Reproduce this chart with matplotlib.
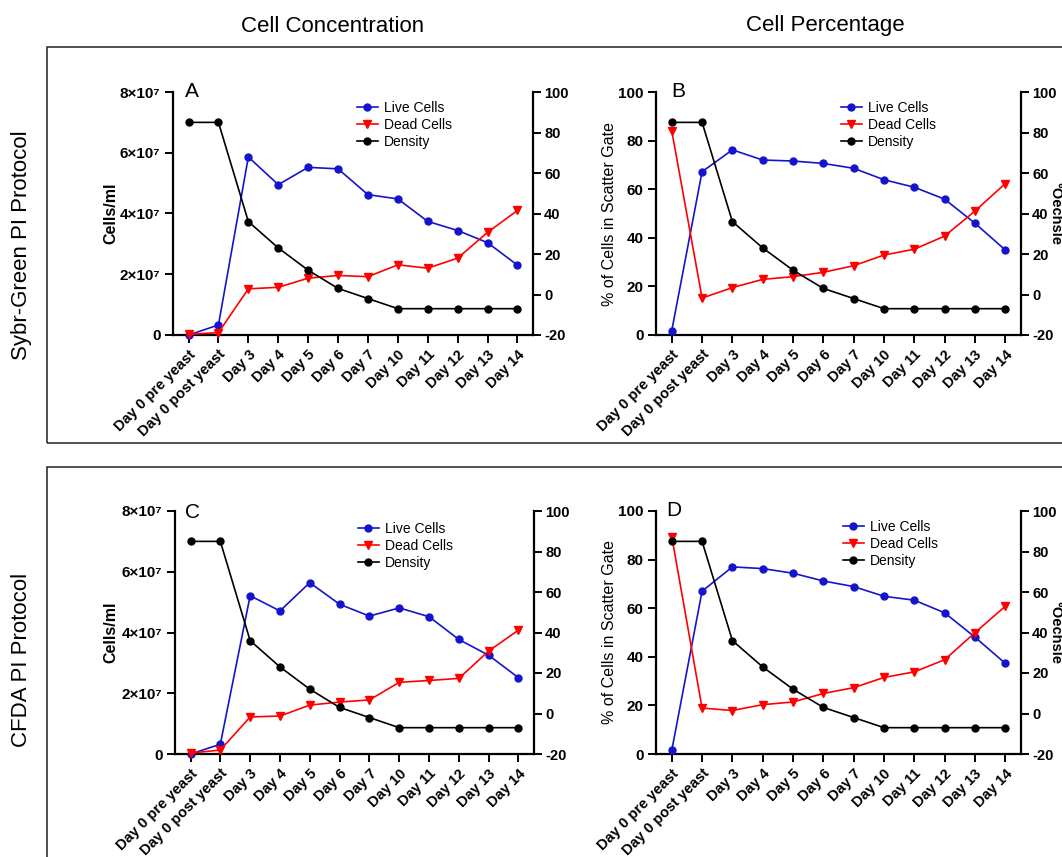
import matplotlib
matplotlib.use("Agg")
import matplotlib.pyplot as plt
from matplotlib.patches import Rectangle

plt.rcParams['font.family'] = ['Liberation Sans', 'DejaVu Sans']

days = ["Day 0 pre yeast", "Day 0 post yeast", "Day 3", "Day 4", "Day 5", "Day 6",
        "Day 7", "Day 10", "Day 11", "Day 12", "Day 13", "Day 14"]

density = [85, 85, 36, 23, 12, 3, -2, -7, -7, -7, -7, -7]

# Panel A: Sybr-Green concentration (cells/ml)
live_a = [0.0, 0.33e7, 5.86e7, 4.95e7, 5.52e7, 5.47e7, 4.62e7, 4.48e7, 3.74e7, 3.44e7, 3.04e7, 2.30e7]
dead_a = [0.02e7, 0.08e7, 1.52e7, 1.57e7, 1.87e7, 1.96e7, 1.92e7, 2.31e7, 2.20e7, 2.53e7, 3.38e7, 4.10e7]

# Panel B: Sybr-Green percentage
live_b = [1.8, 67.2, 76.2, 72.0, 71.6, 70.6, 68.6, 63.9, 60.8, 55.9, 46.0, 35.0]
dead_b = [84.0, 15.2, 19.5, 22.9, 24.0, 25.8, 28.5, 32.9, 35.3, 40.7, 51.0, 62.3]

# Panel C: CFDA concentration (cells/ml)
live_c = [0.0, 0.32e7, 5.21e7, 4.71e7, 5.64e7, 4.93e7, 4.54e7, 4.81e7, 4.52e7, 3.77e7, 3.25e7, 2.51e7]
dead_c = [0.03e7, 0.13e7, 1.22e7, 1.25e7, 1.61e7, 1.71e7, 1.78e7, 2.36e7, 2.42e7, 2.49e7, 3.39e7, 4.08e7]

# Panel D: CFDA percentage
live_d = [1.5, 67.0, 77.0, 76.3, 74.4, 71.2, 68.9, 64.9, 63.3, 58.1, 48.1, 37.3]
dead_d = [89.5, 18.9, 17.9, 20.3, 21.4, 24.9, 27.3, 31.5, 33.8, 38.8, 49.9, 60.8]

conc_ticks = [0, 2e7, 4e7, 6e7, 8e7]
conc_labels = ["0", "2×10⁷", "4×10⁷", "6×10⁷", "8×10⁷"]
pct_ticks = [0, 20, 40, 60, 80, 100]
oe_ticks = [-20, 0, 20, 40, 60, 80, 100]

W, H = 1062, 857
fig = plt.figure(figsize=(W / 100, H / 100), dpi=100)

def fx(px):
    return px / W

def fy(py):
    return 1 - py / H

# Frames
fig.add_artist(Rectangle((fx(47), fy(443)), 1.2, fy(47) - fy(443), transform=fig.transFigure,
                         fill=False, edgecolor='#222222', linewidth=1.1))
fig.add_artist(Rectangle((fx(47), -0.2), 1.2, fy(467) + 0.2, transform=fig.transFigure,
                         fill=False, edgecolor='#222222', linewidth=1.1))

fig.text(fx(333), fy(26), "Cell Concentration", ha='center', va='center', fontsize=16)
fig.text(fx(825), fy(26), "Cell Percentage", ha='center', va='center', fontsize=16)
fig.text(fx(22), fy(245), "Sybr-Green PI Protocol", ha='center', va='center', fontsize=16, rotation=90)
fig.text(fx(22), fy(660), "CFDA PI Protocol", ha='center', va='center', fontsize=16, rotation=90)

BLUE = '#1414CC'
RED = '#FF0000'

def panel(rect_px, live, dead, kind, letter, letter_px, show_right_label, leg_px):
    l, r, t, b = rect_px
    ax = fig.add_axes([fx(l), fy(b), fx(r) - fx(l), fy(t) - fy(b)])
    ax2 = ax.twinx()
    x = list(range(len(days)))
    h1, = ax.plot(x, live, color=BLUE, marker='o', markersize=5, linewidth=1.2, label='Live Cells', clip_on=False, zorder=3)
    h2, = ax.plot(x, dead, color=RED, marker='v', markersize=5.5, linewidth=1.2, label='Dead Cells', clip_on=False, zorder=3)
    h3, = ax2.plot(x, density, color='black', marker='o', markersize=5, linewidth=1.2, label='Density', clip_on=False)
    ax.set_xlim(-0.52, 11.52)
    ax.set_xticks(x)
    ax.set_xticklabels(days, rotation=45, ha='right', rotation_mode='anchor', fontsize=10.5, fontweight='bold')
    if kind == 'conc':
        ax.set_ylim(0, 8e7)
        ax.set_yticks(conc_ticks)
        ax.set_yticklabels(conc_labels, fontsize=11, fontweight='bold')
        ax.set_ylabel("Cells/ml", fontsize=11.5, fontweight='bold')
        ax.yaxis.set_label_coords((118 - l) / (r - l), 0.5)
    else:
        ax.set_ylim(0, 100)
        ax.set_yticks(pct_ticks)
        ax.set_yticklabels([str(v) for v in pct_ticks], fontsize=11, fontweight='bold')
        ax.set_ylabel("% of Cells in Scatter Gate", fontsize=11.5)
        ax.yaxis.set_label_coords((617 - l) / (r - l), 0.5)
    ax2.set_ylim(-20, 100)
    ax2.set_yticks(oe_ticks)
    ax2.set_yticklabels([str(v) for v in oe_ticks], fontsize=10.5, fontweight='bold')
    if show_right_label:
        ax2.set_ylabel("°Oechsle", fontsize=10.5, fontweight='bold', rotation=-90)
        ax2.yaxis.set_label_coords((1062 - l) / (r - l), 0.5)
    for a in (ax, ax2):
        a.spines['top'].set_visible(False)
        for s in ('left', 'right', 'bottom'):
            a.spines[s].set_linewidth(1.6)
        a.tick_params(axis='both', which='major', length=6, width=1.4, direction='out', pad=3)
    ax2.tick_params(axis='y', pad=2)
    ax.spines['right'].set_visible(False)
    ax2.spines['left'].set_visible(False)
    ax2.spines['bottom'].set_visible(False)
    fig.text(fx(letter_px[0]), fy(letter_px[1]), letter, fontsize=15, ha='left', va='baseline')
    lx, ly = leg_px
    ax2.legend([h1, h2, h3], ['Live Cells', 'Dead Cells', 'Density'], loc='upper left',
               bbox_to_anchor=((lx - l) / (r - l), (b - ly) / (b - t)), frameon=False,
               fontsize=10, borderpad=0, borderaxespad=0, handlelength=1.5,
               handletextpad=0.45, labelspacing=0.2)
    return ax

panel((173, 533, 92, 335), live_a, dead_a, 'conc', 'A', (185, 97), False, (357, 101))
panel((656, 1021, 92, 335), live_b, dead_b, 'pct', 'B', (671, 97), True, (841, 101))
panel((175, 534, 511, 754), live_c, dead_c, 'conc', 'C', (185, 518), False, (358, 522))
panel((656, 1021, 511, 754), live_d, dead_d, 'pct', 'D', (666, 516), True, (843, 520))

fig.savefig("out.png", dpi=100)
